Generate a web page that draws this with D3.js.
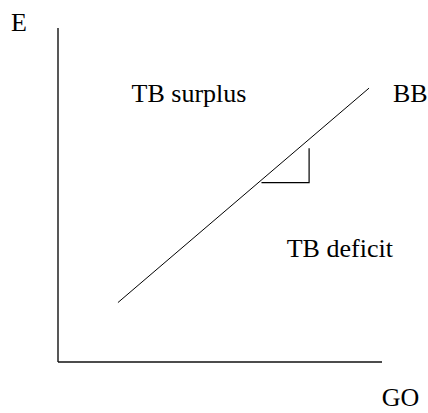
<!DOCTYPE html>
<html>
<head>
<meta charset="utf-8">
<script src="https://cdn.jsdelivr.net/npm/d3@7"></script>
<style>
  html, body { margin: 0; padding: 0; background: #fff; overflow: hidden; }
  svg { display: block; }
  text { font-family: "Liberation Serif", "Times New Roman", serif; fill: #000; }
</style>
</head>
<body>
<svg id="chart" width="428" height="413"></svg>
<script>
// Data (abstract diagram units, 0-100 on each axis)
const bbLine = [ {x: 18.5, y: 17.8}, {x: 96.0, y: 82.0} ];
const slopeTriangle = [ {x: 62.8, y: 53.7}, {x: 77.5, y: 53.7}, {x: 77.5, y: 64.0} ];
const labelTexts = ["E", "TB surplus", "BB", "TB deficit", "GO"];
const labelX = [-14.5, 22.7, 103.4, 70.6, 99.9];
const labelY = [99.1, 77.9, 77.9, 31.5, -13.2];

const svg = d3.select("#chart");
const x = d3.scaleLinear().domain([0, 100]).range([58, 382]);
const y = d3.scaleLinear().domain([0, 100]).range([362, 28]);

// Axes (plain lines, no ticks)
svg.append("line")
  .attr("x1", x(0)).attr("y1", y(100))
  .attr("x2", x(0)).attr("y2", y(0))
  .attr("stroke", "#111").attr("stroke-width", 1.4);
svg.append("line")
  .attr("x1", x(0)).attr("y1", y(0))
  .attr("x2", x(100)).attr("y2", y(0))
  .attr("stroke", "#111").attr("stroke-width", 1.4);

const lineGen = d3.line().x(d => x(d.x)).y(d => y(d.y));

svg.append("path")
  .attr("d", lineGen(bbLine))
  .attr("fill", "none").attr("stroke", "#000").attr("stroke-width", 1);

svg.append("path")
  .attr("d", lineGen(slopeTriangle))
  .attr("fill", "none").attr("stroke", "#000").attr("stroke-width", 1.2);

svg.selectAll("text.lbl")
  .data(labelTexts)
  .enter().append("text")
  .attr("class", "lbl")
  .attr("x", (d, i) => x(labelX[i]))
  .attr("y", (d, i) => y(labelY[i]))
  .attr("font-size", 26)
  .text(d => d);
</script>
</body>
</html>
